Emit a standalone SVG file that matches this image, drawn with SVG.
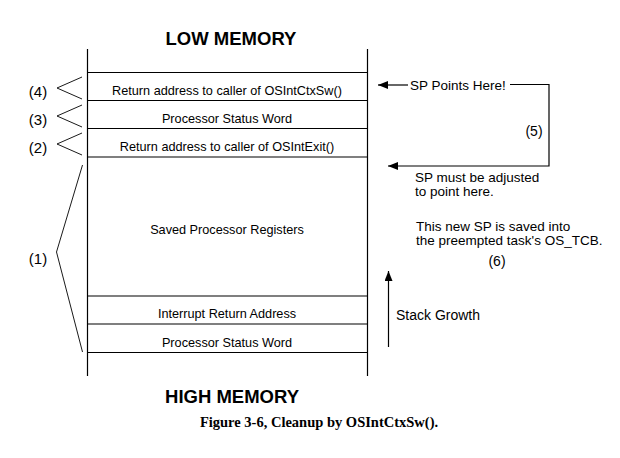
<svg xmlns="http://www.w3.org/2000/svg" width="620" height="458" viewBox="0 0 620 458">
<style>
.ln{stroke:#000;stroke-width:1.2;fill:none}
.th{stroke:#000;stroke-width:0.9;fill:none}
.t{font-family:"Liberation Sans",Arial,sans-serif;fill:#000}
.row{font-size:12.7px;text-anchor:middle}
.lbl{font-size:15px;text-anchor:middle}
.note{font-size:13.5px}
.title{font-size:18.5px;font-weight:bold;text-anchor:middle}
.cap{font-family:"Liberation Serif","Times New Roman",serif;font-size:14.5px;font-weight:bold;text-anchor:middle;fill:#000}
</style>
<defs>
<marker id="ah" viewBox="0 0 10 8" refX="10" refY="4" markerWidth="10" markerHeight="8" markerUnits="userSpaceOnUse" orient="auto">
<path d="M0,0 L10,4 L0,8 z" fill="#000"/>
</marker>
</defs>
<rect width="620" height="458" fill="#fff"/>
<g id="titles">
<text class="t title" x="231" y="45">LOW MEMORY</text>
<text class="t title" x="232" y="403">HIGH MEMORY</text>
<text class="cap" x="319" y="427">Figure 3-6, Cleanup by OSIntCtxSw().</text>
</g>
<g id="stack">
<line class="ln" x1="87.5" y1="49" x2="87.5" y2="376"/>
<line class="ln" x1="367.5" y1="49" x2="367.5" y2="376"/>
<line class="ln" x1="87.5" y1="72.5" x2="367.5" y2="72.5"/>
<line class="ln" x1="87.5" y1="100.5" x2="367.5" y2="100.5"/>
<line class="ln" x1="87.5" y1="128.5" x2="367.5" y2="128.5"/>
<line class="ln" x1="87.5" y1="157" x2="367.5" y2="157"/>
<line class="ln" x1="87.5" y1="296" x2="367.5" y2="296"/>
<line class="ln" x1="87.5" y1="324" x2="367.5" y2="324"/>
<line class="ln" x1="87.5" y1="352.5" x2="367.5" y2="352.5"/>
</g>
<g id="row4"><text class="t row" x="227" y="95">Return address to caller of OSIntCtxSw()</text></g>
<g id="row3"><text class="t row" x="227" y="123">Processor Status Word</text></g>
<g id="row2"><text class="t row" x="227" y="151">Return address to caller of OSIntExit()</text></g>
<g id="row-regs"><text class="t row" x="227" y="234">Saved Processor Registers</text></g>
<g id="row-ira"><text class="t row" x="227" y="318">Interrupt Return Address</text></g>
<g id="row-psw"><text class="t row" x="227" y="347">Processor Status Word</text></g>
<g id="label4">
<text class="t lbl" x="38" y="97">(4)</text>
<polyline class="th" points="82,77 57,88 82,99"/>
</g>
<g id="label3">
<text class="t lbl" x="38" y="125">(3)</text>
<polyline class="th" points="82,105 57,116 82,127"/>
</g>
<g id="label2">
<text class="t lbl" x="38" y="153">(2)</text>
<polyline class="th" points="82,133 57,144 82,155"/>
</g>
<g id="label1">
<text class="t lbl" x="38" y="264">(1)</text>
<polyline class="th" points="82.5,165 56.5,252 82.5,352"/>
</g>
<g id="connectors">
<line class="ln" x1="408" y1="85" x2="378" y2="85" marker-end="url(#ah)"/>
<polyline class="ln" points="510,84.5 549,84.5 549,166 388,166" marker-end="url(#ah)"/>
<line class="ln" x1="388.5" y1="347" x2="388.5" y2="271" marker-end="url(#ah)"/>
</g>
<g id="notes">
<text class="t note" x="410" y="90">SP Points Here!</text>
<text class="t lbl" x="534" y="136" style="font-size:14px">(5)</text>
<text class="t note" x="415" y="182">SP must be adjusted</text>
<text class="t note" x="415" y="196">to point here.</text>
<text class="t note" x="416" y="231">This new SP is saved into</text>
<text class="t note" x="416" y="245">the preempted task's OS_TCB.</text>
<text class="t lbl" x="497" y="266" style="font-size:14px">(6)</text>
<text class="t" x="396" y="320" style="font-size:14px">Stack Growth</text>
</g>
</svg>
